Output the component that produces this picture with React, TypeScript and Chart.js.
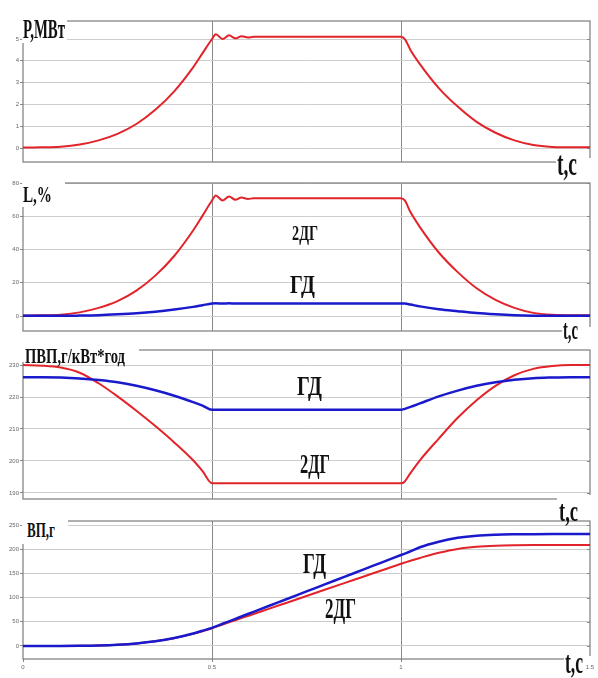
import React, { useEffect, useRef } from "react";
import { Chart, registerables } from "chart.js";
Chart.register(...registerables);

// ---------- data ----------
const TIMES = [0, 0.05, 0.1, 0.15, 0.2, 0.25, 0.3, 0.35, 0.4, 0.45, 0.475, 0.5, 0.51, 0.528, 0.545, 0.562, 0.578, 0.595, 0.61, 0.65, 0.7, 0.75, 0.8, 0.85, 0.9, 0.95, 1.0, 1.01, 1.025, 1.05, 1.1, 1.15, 1.2, 1.25, 1.3, 1.35, 1.4, 1.45, 1.5];

const P_MW = [0.02, 0.03, 0.06, 0.16, 0.35, 0.65, 1.1, 1.75, 2.6, 3.7, 4.35, 5.0, 5.22, 5.0, 5.17, 5.03, 5.13, 5.07, 5.1, 5.1, 5.1, 5.1, 5.1, 5.1, 5.1, 5.1, 5.1, 5.0, 4.5, 3.85, 2.75, 1.9, 1.2, 0.7, 0.35, 0.14, 0.05, 0.03, 0.03];

const L_2DG = [0.3, 0.4, 0.8, 2.2, 4.9, 9.0, 15.3, 24.3, 36.1, 51.4, 60.4, 69.5, 72.5, 69.5, 71.9, 69.9, 71.3, 70.4, 70.8, 70.8, 70.8, 70.8, 70.8, 70.8, 70.8, 70.8, 70.8, 69.5, 62.5, 53.5, 38.2, 26.4, 16.7, 9.7, 4.9, 1.9, 0.7, 0.4, 0.4];
const L_GD = [0.1, 0.1, 0.1, 0.25, 0.5, 1.0, 1.65, 2.6, 3.9, 5.5, 6.5, 7.5, 7.7, 7.5, 7.65, 7.55, 7.6, 7.6, 7.6, 7.6, 7.6, 7.6, 7.6, 7.6, 7.6, 7.6, 7.6, 7.5, 6.9, 5.8, 4.1, 2.9, 1.8, 1.05, 0.5, 0.2, 0.1, 0.1, 0.1];

const SFC_2DG = [230, 229.8, 229.2, 227.6, 224.3, 220.2, 215.7, 210.9, 205.8, 200.2, 196.8, 193, 193, 193, 193, 193, 193, 193, 193, 193, 193, 193, 193, 193, 193, 193, 193, 193.6, 196.2, 200.2, 207, 213.5, 219, 223.5, 226.8, 228.8, 229.7, 230, 230];
const SFC_GD = [226.2, 226.2, 226.1, 225.8, 225.3, 224.6, 223.5, 222.1, 220.4, 218.4, 217.3, 216, 216, 216, 216, 216, 216, 216, 216, 216, 216, 216, 216, 216, 216, 216, 216, 216.3, 216.9, 218, 220.2, 222, 223.5, 224.6, 225.4, 225.9, 226.1, 226.2, 226.2];

const FUEL_GD = [0, 0, 0.1, 0.4, 1.1, 2.6, 5.3, 9.7, 16.4, 25.8, 31.6, 37.5, 40.5, 45.9, 51.0, 56.2, 61.0, 66.1, 70.6, 82.6, 97.7, 112.7, 127.8, 142.8, 157.9, 172.9, 188, 191, 195.5, 204, 215.5, 223.5, 228, 230, 230.8, 231.1, 231.2, 231.2, 231.2];
const FUEL_2DG = [0, 0, 0.1, 0.4, 1.1, 2.6, 5.3, 9.6, 16.0, 25.0, 30.6, 36.8, 39.5, 44.3, 48.8, 53.3, 57.6, 62.1, 66.1, 76.7, 90.0, 103.3, 116.6, 129.9, 143.2, 156.5, 170, 172.5, 176.3, 182, 192.5, 200.5, 205, 207.3, 208.3, 208.7, 208.8, 208.8, 208.8];

const P_TICKS = [0, 1, 2, 3, 4, 5];
const L_TICKS = [0, 20, 40, 60, 80];
const SFC_TICKS = [190, 200, 210, 220, 230];
const FUEL_TICKS = [0, 50, 100, 150, 200, 250];
const T_TICKS = [0, 0.5, 1, 1.5];

const TITLE_P = "Р,МВт";
const TITLE_L = "L,%";
const TITLE_SFC = "ПВП,г/кВт*год";
const TITLE_FUEL = "ВП,г";
const AXIS_T = "t,c";
const NAME_GD = "ГД";
const NAME_2DG = "2ДГ";

// ---------- styles / layout ----------
const RED = "rgb(226,36,42)";
const BLUE = "rgb(26,26,204)";
const W = 598;
const PAD = 6;
const AREA_LEFT = 23;
const AREA_RIGHT = 590;

type Series = { values: number[]; color: string; width: number };
type PanelSpec = { top: number; bottom: number; min: number; max: number; ticks: number[]; series: Series[]; xLabels: boolean };

const PANELS: PanelSpec[] = [
  { top: 21, bottom: 162, min: -0.642, max: 5.826, ticks: P_TICKS, series: [{ values: P_MW, color: RED, width: 2 }], xLabels: false },
  { top: 183, bottom: 331, min: -9.0, max: 80, ticks: L_TICKS, series: [{ values: L_GD, color: BLUE, width: 2.5 }, { values: L_2DG, color: RED, width: 2 }], xLabels: false },
  { top: 350, bottom: 499, min: 188.1, max: 234.7, ticks: SFC_TICKS, series: [{ values: SFC_GD, color: BLUE, width: 2.5 }, { values: SFC_2DG, color: RED, width: 2 }], xLabels: false },
  { top: 521, bottom: 659, min: -26.9, max: 258.3, ticks: FUEL_TICKS, series: [{ values: FUEL_GD, color: BLUE, width: 2.5 }, { values: FUEL_2DG, color: RED, width: 2 }], xLabels: true },
];

const framePlugin = {
  id: "frame",
  beforeDatasetsDraw(chart: any) {
    const { ctx, chartArea: a } = chart;
    ctx.save();
    ctx.strokeStyle = "#7c7c7c";
    ctx.lineWidth = 1.2;
    ctx.strokeRect(a.left, a.top, a.right - a.left, a.bottom - a.top);
    const ys = chart.scales.y;
    ctx.lineWidth = 1;
    ctx.strokeStyle = "#888";
    ys.ticks.forEach((t: any) => {
      const y = Math.round(ys.getPixelForValue(t.value)) + 0.5;
      ctx.beginPath();
      ctx.moveTo(a.right - 3, y);
      ctx.lineTo(a.right, y);
      ctx.stroke();
    });
    ctx.restore();
  },
};

function Panel({ spec }: { spec: PanelSpec }) {
  const ref = useRef<HTMLCanvasElement>(null);
  const xAxisH = spec.xLabels ? 19 : 0;
  const padBottom = spec.xLabels ? 0 : PAD;
  const height = spec.bottom - spec.top + PAD + padBottom + xAxisH;
  useEffect(() => {
    if (!ref.current) return;
    const chart = new Chart(ref.current, {
      type: "line",
      data: {
        datasets: spec.series.map((s) => ({
          data: TIMES.map((t, i) => ({ x: t, y: s.values[i] })),
          borderColor: s.color,
          borderWidth: s.width,
          pointRadius: 0,
          cubicInterpolationMode: "monotone",
          fill: false,
        })),
      },
      options: {
        animation: false,
        responsive: false,
        maintainAspectRatio: false,
        events: [],
        layout: { padding: { left: 0, right: W - AREA_RIGHT, top: PAD, bottom: padBottom } },
        plugins: { legend: { display: false }, tooltip: { enabled: false } },
        scales: {
          x: {
            type: "linear",
            min: 0,
            max: 1.5,
            afterBuildTicks: (a: any) => { a.ticks = T_TICKS.map((v) => ({ value: v })); },
            afterFit: (s: any) => { s.height = xAxisH; },
            grid: {
              color: (c: any) => (c.tick && (c.tick.value === 0.5 || c.tick.value === 1) ? "#8a8a8a" : "rgba(0,0,0,0)"),
              lineWidth: 1,
              drawTicks: spec.xLabels,
              tickLength: 3,
              tickColor: "#888",
            },
            border: { display: false },
            ticks: {
              display: spec.xLabels,
              font: { size: 6, family: "'Liberation Sans', sans-serif" },
              color: "#666",
              padding: 2,
              maxRotation: 0,
              autoSkip: false,
              callback: (v: any) => String(v),
            },
          },
          y: {
            type: "linear",
            min: spec.min,
            max: spec.max,
            afterBuildTicks: (a: any) => { a.ticks = spec.ticks.map((v) => ({ value: v })); },
            afterFit: (s: any) => { s.width = AREA_LEFT; },
            grid: { color: "#cdcdcd", lineWidth: 1, tickLength: 3, tickColor: "#888" },
            border: { display: false },
            ticks: { font: { size: 6, family: "'Liberation Sans', sans-serif" }, color: "#666", padding: 1, autoSkip: false },
          },
        },
      } as any,
      plugins: [framePlugin],
    });
    return () => chart.destroy();
  }, []);
  return (
    <canvas
      ref={ref}
      width={W}
      height={height}
      style={{ position: "absolute", left: 0, top: spec.top - PAD, width: W, height }}
    />
  );
}

let measureCtx: CanvasRenderingContext2D | null = null;
function measure(text: string, fs: number) {
  if (!measureCtx) measureCtx = document.createElement("canvas").getContext("2d");
  measureCtx!.font = `bold ${fs}px "Liberation Serif"`;
  return measureCtx!.measureText(text).width;
}

type TxtSpec = { text: string; left: number; width: number; fs: number; capTop?: number; baseline?: number };
function Txt({ s }: { s: TxtSpec }) {
  const nat = measure(s.text, s.fs);
  const sx = s.width / nat;
  const top = s.baseline !== undefined ? s.baseline - 0.8375 * s.fs : (s.capTop as number) - 0.1825 * s.fs;
  return (
    <div
      style={{
        position: "absolute",
        left: s.left,
        top,
        fontFamily: '"Liberation Serif", serif',
        fontWeight: 700,
        fontSize: s.fs,
        lineHeight: `${s.fs}px`,
        whiteSpace: "nowrap",
        transform: `scaleX(${sx})`,
        transformOrigin: "0 0",
        color: "#111",
      }}
    >
      {s.text}
    </div>
  );
}

const MASKS = [
  { x: 22, y: 14, w: 45, h: 29 },
  { x: 22, y: 179, w: 43, h: 28 },
  { x: 22, y: 344, w: 117, h: 18 },
  { x: 22, y: 514, w: 46, h: 30 },
  { x: 556, y: 158, w: 42, h: 8 },
  { x: 562, y: 327, w: 36, h: 8 },
  { x: 557, y: 495, w: 41, h: 8 },
  { x: 564, y: 656, w: 34, h: 8 },
];

const LABELS: TxtSpec[] = [
  { text: TITLE_P, left: 23, width: 42, fs: 28, capTop: 20.5 },
  { text: TITLE_L, left: 23, width: 29, fs: 23.5, capTop: 187.3 },
  { text: TITLE_SFC, left: 25, width: 100, fs: 21.4, capTop: 350 },
  { text: TITLE_FUEL, left: 27, width: 28, fs: 21, capTop: 524 },
  { text: AXIS_T, left: 557, width: 20, fs: 34, baseline: 175 },
  { text: AXIS_T, left: 563, width: 15, fs: 27.6, baseline: 339.3 },
  { text: AXIS_T, left: 559, width: 19, fs: 30, baseline: 521 },
  { text: AXIS_T, left: 565, width: 18, fs: 32, baseline: 673 },
  { text: NAME_2DG, left: 292, width: 26, fs: 21.4, capTop: 227 },
  { text: NAME_GD, left: 290, width: 25, fs: 26, capTop: 277 },
  { text: NAME_GD, left: 297, width: 25, fs: 27, capTop: 378 },
  { text: NAME_2DG, left: 300, width: 30, fs: 27, capTop: 456 },
  { text: NAME_GD, left: 303, width: 23, fs: 29, capTop: 554 },
  { text: NAME_2DG, left: 325, width: 31, fs: 29, capTop: 599 },
];

export default function App() {
  return (
    <div style={{ position: "fixed", left: 0, top: 0, width: W, height: 678, background: "#fff", overflow: "hidden" }}>
      {PANELS.map((p, i) => (
        <Panel key={i} spec={p} />
      ))}
      {MASKS.map((m, i) => (
        <div key={"m" + i} style={{ position: "absolute", left: m.x, top: m.y, width: m.w, height: m.h, background: "#fff" }} />
      ))}
      {LABELS.map((l, i) => (
        <Txt key={"t" + i} s={l} />
      ))}
    </div>
  );
}
